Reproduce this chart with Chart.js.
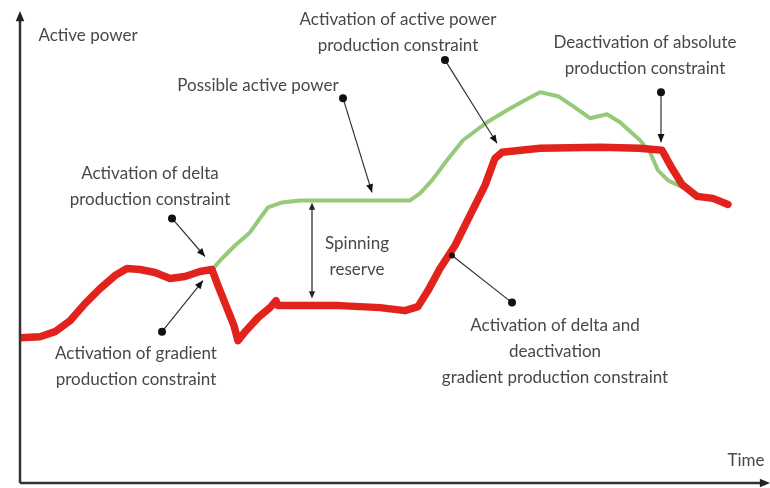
<!DOCTYPE html>
<html>
<head>
<meta charset="utf-8">
<script src="https://cdn.jsdelivr.net/npm/chart.js@4.4.1/dist/chart.umd.min.js"></script>
<style>
  html, body { margin: 0; padding: 0; background: #fff; }
  #wrap { width: 770px; height: 488px; position: relative; }
</style>
</head>
<body>
<div id="wrap"><canvas id="powerChart"></canvas></div>
<script>
// Actual (constrained) active power - red curve
const activeTime = [0, 20, 35, 50, 65, 80, 95, 107, 120, 135, 150, 165, 180, 192, 198, 206, 214, 218, 226, 238, 250, 256, 258, 280, 320, 360, 385, 398, 408, 420, 435, 450, 465, 475, 482, 520, 580, 620, 642, 652, 662, 677, 693, 708];
const activePower = [145, 146, 151, 162, 179, 194, 207, 214, 213, 210, 204, 206, 211, 213, 197, 177, 157, 142, 152, 165, 175, 182, 177, 177, 177, 175, 172, 176, 192, 214, 237, 267, 297, 324, 330, 334, 335, 334, 332, 314, 298, 286, 284, 278];

// Possible active power - green curve
const possibleTime = [0, 20, 35, 50, 65, 80, 95, 107, 120, 135, 150, 165, 180, 192, 202, 215, 230, 242, 248, 262, 280, 330, 390, 400, 412, 427, 443, 467, 487, 503, 520, 538, 553, 570, 587, 600, 620, 630, 638, 648, 665, 680, 693, 708];
const possiblePower = [145, 146, 151, 162, 179, 194, 207, 214, 213, 210, 204, 206, 211, 213, 224, 237, 250, 267, 275, 280, 282, 282, 282, 289, 302, 322, 342, 360, 372, 381, 390, 386, 376, 364, 368, 360, 342, 330, 312, 302, 294, 287, 284, 279];

// Callouts: text lines, text centre, pointer start (dot) and end
const notes = [
  { lines: ['Possible active power'], at: [238, 397], from: [323, 384], to: [352, 290], head: 'arrow' },
  { lines: ['Activation of delta', 'production constraint'], at: [130, 309], from: [152, 264], to: [185, 226], head: 'arrow' },
  { lines: ['Activation of gradient', 'production constraint'], at: [116, 129], from: [142, 151], to: [183, 202], head: 'arrow' },
  { lines: ['Activation of active power', 'production constraint'], at: [378, 462], from: [425, 422], to: [477, 339], head: 'arrow' },
  { lines: ['Deactivation of absolute', 'production constraint'], at: [625, 440], from: [641, 390], to: [641, 340], head: 'arrow' },
  { lines: ['Activation of delta and', 'deactivation', 'gradient production constraint'], at: [535, 157], from: [492, 180], to: [432, 227], head: 'dot' },
  { lines: ['Spinning', 'reserve'], at: [337, 239] },
  { lines: ['Active power'], at: [68, 447] },
  { lines: ['Time'], at: [726, 22] }
];
const reserveTime = 292;
const reserveRange = [185, 279];

function arrowHead(ctx, x1, y1, x2, y2, size) {
  const a = Math.atan2(y2 - y1, x2 - x1);
  ctx.beginPath();
  ctx.moveTo(x2, y2);
  ctx.lineTo(x2 - size * Math.cos(a - 0.4), y2 - size * Math.sin(a - 0.4));
  ctx.lineTo(x2 - size * Math.cos(a + 0.4), y2 - size * Math.sin(a + 0.4));
  ctx.closePath();
  ctx.fill();
}

const sketchPlugin = {
  id: 'sketch',
  afterDraw(chart) {
    const ctx = chart.ctx;
    const xs = chart.scales.x, ys = chart.scales.y;
    const px = v => xs.getPixelForValue(v), py = v => ys.getPixelForValue(v);
    ctx.save();
    // axes with arrows
    ctx.strokeStyle = '#333';
    ctx.fillStyle = '#222';
    ctx.lineWidth = 2.5;
    ctx.beginPath();
    ctx.moveTo(px(0), py(0));
    ctx.lineTo(px(0), py(ys.max) + 4);
    ctx.moveTo(px(0), py(0));
    ctx.lineTo(px(xs.max) - 4, py(0));
    ctx.stroke();
    arrowHead(ctx, px(0), py(0), px(0), py(ys.max) - 4, 11);
    arrowHead(ctx, px(0), py(0), px(xs.max), py(0), 11);

    // spinning reserve double arrow
    ctx.lineWidth = 1.2;
    ctx.strokeStyle = '#222';
    const rx = px(reserveTime);
    ctx.beginPath();
    ctx.moveTo(rx, py(reserveRange[0]) - 4);
    ctx.lineTo(rx, py(reserveRange[1]) + 4);
    ctx.stroke();
    arrowHead(ctx, rx, py(reserveRange[0]), rx, py(reserveRange[1]) - 1, 8);
    arrowHead(ctx, rx, py(reserveRange[1]), rx, py(reserveRange[0]) + 1, 8);

    // callouts
    ctx.font = '17px Lato';
    ctx.textAlign = 'center';
    ctx.textBaseline = 'middle';
    notes.forEach(n => {
      n.lines.forEach((t, i) => {
        ctx.fillStyle = '#484848';
        ctx.fillText(t, px(n.at[0]), py(n.at[1]) + i * 26);
      });
      if (!n.from) return;
      const x1 = px(n.from[0]), y1 = py(n.from[1]), x2 = px(n.to[0]), y2 = py(n.to[1]);
      ctx.strokeStyle = '#333';
      ctx.fillStyle = '#111';
      ctx.lineWidth = 1.2;
      ctx.beginPath();
      ctx.moveTo(x1, y1);
      ctx.lineTo(x2, y2);
      ctx.stroke();
      ctx.beginPath();
      ctx.arc(x1, y1, 4, 0, Math.PI * 2);
      ctx.fill();
      if (n.head === 'arrow') {
        arrowHead(ctx, x1, y1, x2, y2, 9);
      } else {
        ctx.beginPath();
        ctx.arc(x2, y2, 3, 0, Math.PI * 2);
        ctx.fill();
      }
    });
    ctx.restore();
  }
};

const toPoints = (xs, ys) => xs.map((x, i) => ({ x: x, y: ys[i] }));

const config = {
  type: 'line',
  data: {
    datasets: [{
      label: 'Active power',
      data: toPoints(activeTime, activePower),
      borderColor: '#e2231d',
      borderWidth: 7.5,
      borderJoinStyle: 'round',
      borderCapStyle: 'round',
      pointRadius: 0,
      tension: 0,
      order: 0
    }, {
      label: 'Possible active power',
      data: toPoints(possibleTime, possiblePower),
      borderColor: '#97c97a',
      borderWidth: 4,
      borderJoinStyle: 'round',
      borderCapStyle: 'round',
      pointRadius: 0,
      tension: 0,
      order: 1
    }]
  },
  options: {
    responsive: true,
    maintainAspectRatio: false,
    animation: false,
    layout: { padding: { left: 20, right: 0, top: 15, bottom: 5 } },
    scales: {
      x: { type: 'linear', min: 0, max: 750, display: false },
      y: { min: 0, max: 467, display: false }
    },
    plugins: {
      legend: { display: false },
      tooltip: { enabled: false }
    }
  },
  plugins: [sketchPlugin]
};

const powerChart = new Chart(document.getElementById('powerChart'), config);
</script>
</body>
</html>
